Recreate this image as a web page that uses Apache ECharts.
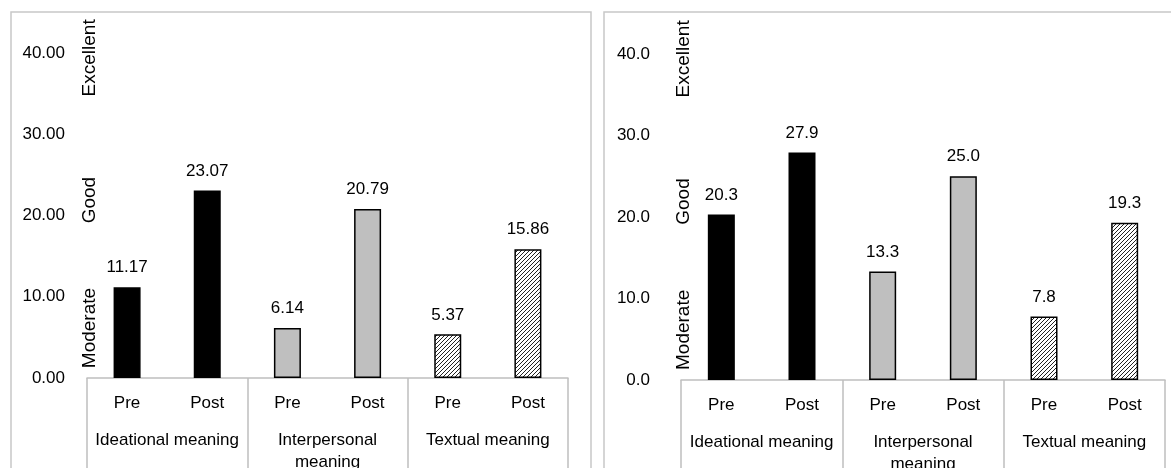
<!DOCTYPE html>
<html>
<head>
<meta charset="utf-8">
<script src="https://cdn.jsdelivr.net/npm/echarts@6/dist/echarts.min.js"></script>
<style>
html,body{margin:0;padding:0;background:#fff;}
#chart{width:1171px;height:468px;}
</style>
</head>
<body>
<div id="chart"></div>
<script>
// ---- data ----
const itemCats = ['Pre', 'Post', 'Pre', 'Post', 'Pre', 'Post'];
const groupCats = ['Ideational meaning', 'Interpersonal\nmeaning', 'Textual meaning'];
const leftScores = [11.17, 23.07, 6.14, 20.79, 5.37, 15.86];
const rightScores = [20.3, 27.9, 13.3, 25.0, 7.8, 19.3];
const ratingNames = ['Moderate', 'Good', 'Excellent'];
const yMin = 0, yMax = 40, yStep = 10;

// ---- layout / style ----
const FONT = '"Liberation Sans", Arial, sans-serif';
const ratingAnchor = [6.15, 21.9, 39.4]; // where rating words sit on the value scale
const panels = [
  { grid: { left: 87, right: 603, top: 53, bottom: 90 }, decimals: 2, labelMargin: 22, scores: leftScores, border: [11, 12, 580] },
  { grid: { left: 681, right: 6, top: 54, bottom: 88 }, decimals: 1, labelMargin: 31, scores: rightScores, border: [604, 12, 620] }
];

function hatchPattern() {
  const c = document.createElement('canvas');
  const s = 4;
  c.width = s; c.height = s;
  const ctx = c.getContext('2d');
  ctx.fillStyle = '#fff';
  ctx.fillRect(0, 0, s, s);
  ctx.strokeStyle = '#222';
  ctx.lineWidth = 1;
  ctx.beginPath();
  ctx.moveTo(0, s); ctx.lineTo(s, 0);
  ctx.moveTo(-1, 1); ctx.lineTo(1, -1);
  ctx.moveTo(s - 1, s + 1); ctx.lineTo(s + 1, s - 1);
  ctx.stroke();
  return c;
}
const hatch = { image: hatchPattern(), repeat: 'repeat' };
const groupFills = ['#000000', '#bfbfbf', hatch];

const chart = echarts.init(document.getElementById('chart'), null, { renderer: 'canvas' });

const grids = [], xAxes = [], yAxes = [], series = [], borders = [];
panels.forEach((p, k) => {
  grids.push(Object.assign({ containLabel: false, outerBoundsMode: 'none' }, p.grid));
  xAxes.push({
    type: 'category', gridIndex: k, data: itemCats, position: 'bottom',
    axisLine: { show: true, lineStyle: { color: '#bfbfbf', width: 1.5 } },
    axisTick: { show: false },
    axisLabel: { interval: 0, margin: 17, fontSize: 17, color: '#000', fontFamily: FONT }
  });
  xAxes.push({
    type: 'category', gridIndex: k, data: groupCats, position: 'bottom',
    axisLine: { show: false },
    axisTick: { show: true, length: 120, lineStyle: { color: '#bfbfbf', width: 1.5 } },
    axisLabel: { interval: 0, margin: 51, fontSize: 17, lineHeight: 22, color: '#000', fontFamily: FONT }
  });
  yAxes.push({
    type: 'value', gridIndex: k, min: yMin, max: yMax, interval: yStep,
    axisLine: { show: false }, axisTick: { show: false }, splitLine: { show: false },
    axisLabel: {
      margin: p.labelMargin, fontSize: 17, color: '#000', fontFamily: FONT,
      formatter: v => v.toFixed(p.decimals)
    }
  });
  series.push({
    type: 'bar', xAxisIndex: k * 2, yAxisIndex: k, barWidth: 27,
    data: p.scores.map((v, i) => ({
      value: v,
      itemStyle: { color: groupFills[Math.floor(i / 2)], borderColor: '#000', borderWidth: 1.5 }
    })),
    label: {
      show: true, position: 'top', distance: 11, fontSize: 17, color: '#000', fontFamily: FONT,
      formatter: d => Number(d.value).toFixed(p.decimals)
    },
    silent: true, animation: false
  });
  borders.push({
    type: 'rect', silent: true, z: -1,
    shape: { x: p.border[0], y: p.border[1], width: p.border[2], height: 520 },
    style: { fill: 'none', stroke: '#c8c8c8', lineWidth: 1.5 }
  });
});

chart.setOption({
  animation: false,
  backgroundColor: '#fff',
  textStyle: { fontFamily: FONT },
  grid: grids, xAxis: xAxes, yAxis: yAxes, series: series,
  graphic: borders
});

// rating words placed through the value scale
const ratingTexts = [];
panels.forEach((p, k) => {
  ratingNames.forEach((name, j) => {
    const y = chart.convertToPixel({ yAxisIndex: k }, ratingAnchor[j]);
    ratingTexts.push({
      type: 'text', silent: true,
      x: p.grid.left + 3, y: y, rotation: Math.PI / 2,
      style: { text: name, fontSize: 19, fontFamily: FONT, fill: '#000', align: 'center', verticalAlign: 'middle' }
    });
  });
});
chart.setOption({ graphic: borders.concat(ratingTexts) });
</script>
</body>
</html>
